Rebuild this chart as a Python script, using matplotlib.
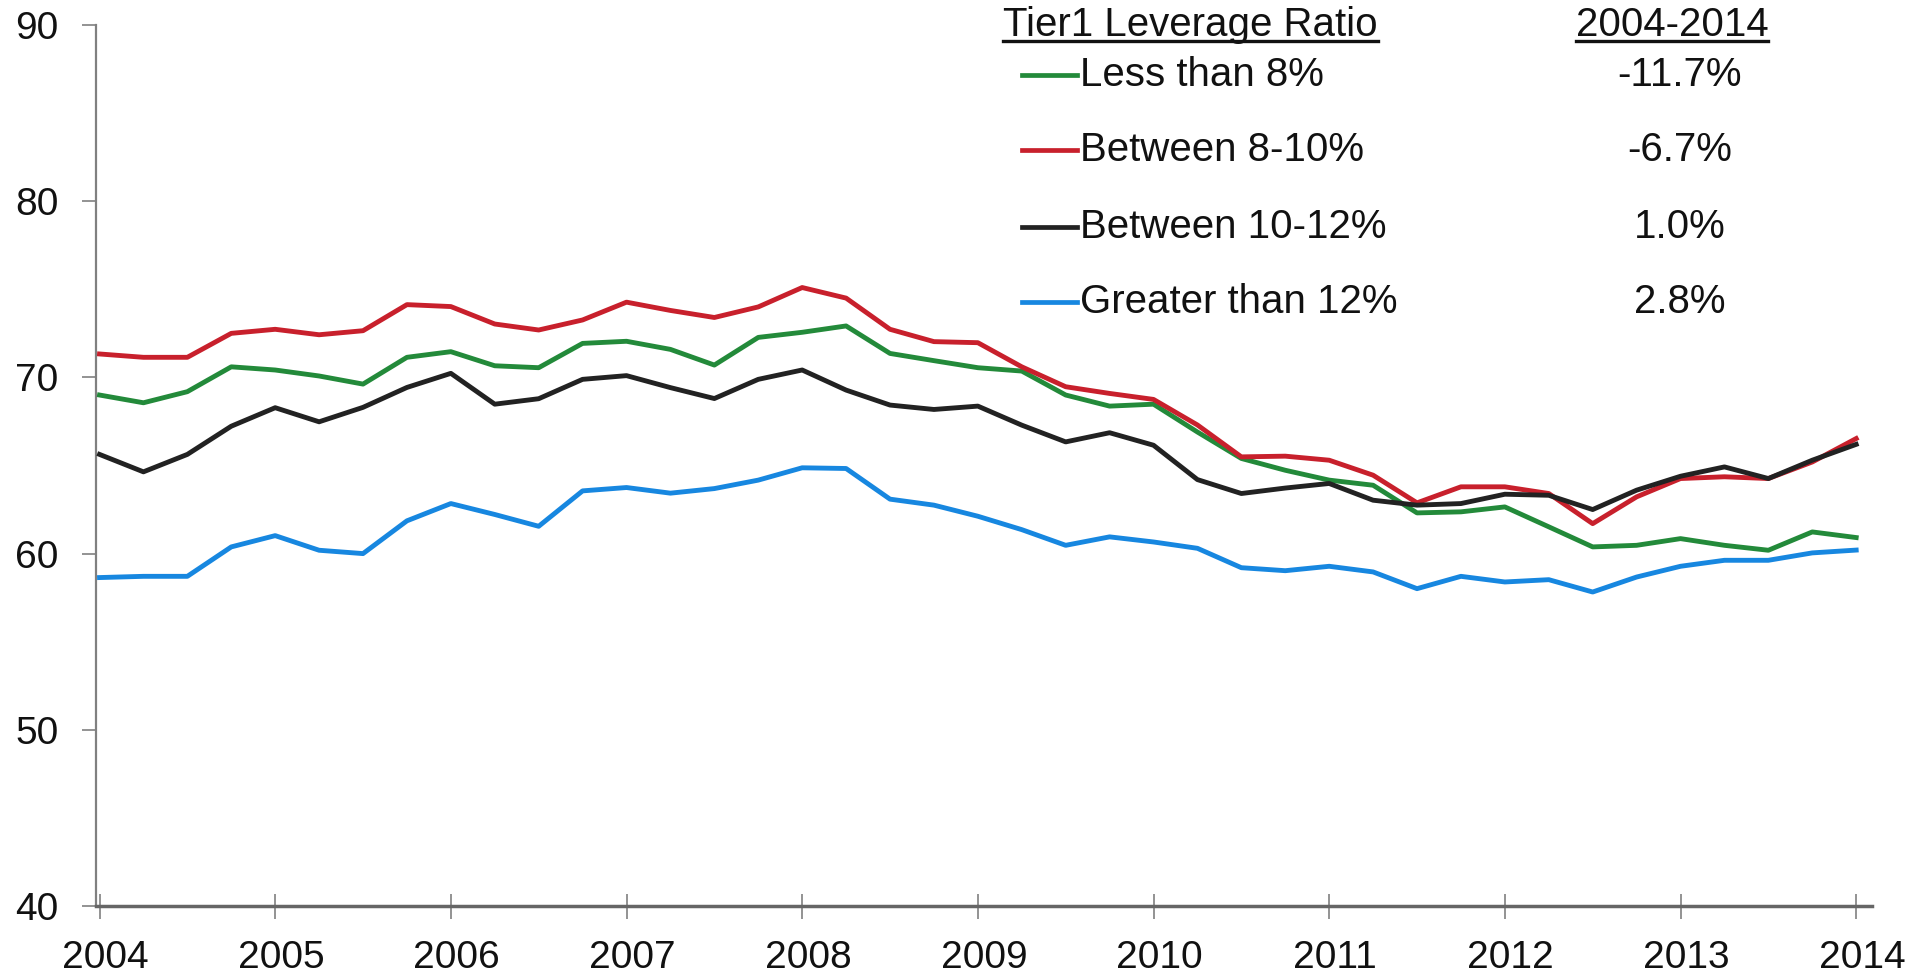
import matplotlib
matplotlib.use("Agg")
import matplotlib.pyplot as plt
from matplotlib.lines import Line2D
import matplotlib.transforms as mtransforms

plt.rcParams['font.family'] = ['Liberation Sans', 'DejaVu Sans']

# ---- data (quarterly, 2004Q1 .. 2014Q1) ----
quarters = [2004 + 0.25 * i for i in range(41)]

less_than_8 = [69.0, 68.56, 69.19, 70.6, 70.42, 70.08, 69.62, 71.14, 71.46, 70.66,
               70.55, 71.93, 72.05, 71.59, 70.7, 72.27, 72.56, 72.92, 71.36, 70.95,
               70.55, 70.36, 69.0, 68.37, 68.48, 66.9, 65.4, 64.73, 64.17, 63.88,
               62.31, 62.37, 62.65, 61.52, 60.38, 60.47, 60.85, 60.47, 60.19, 61.23,
               60.91]
between_8_10 = [71.33, 71.14, 71.14, 72.5, 72.73, 72.42, 72.65, 74.13, 74.02, 73.03,
                72.69, 73.26, 74.27, 73.8, 73.4, 74.0, 75.1, 74.5, 72.73, 72.03,
                71.97, 70.6, 69.47, 69.09, 68.75, 67.3, 65.49, 65.53, 65.3, 64.45,
                62.88, 63.79, 63.79, 63.41, 61.7, 63.22, 64.26, 64.36, 64.26, 65.2,
                66.53]
between_10_12 = [65.63, 64.64, 65.63, 67.23, 68.28, 67.48, 68.3, 69.43, 70.23, 68.48,
                 68.79, 69.89, 70.1, 69.42, 68.8, 69.89, 70.42, 69.28, 68.43, 68.18,
                 68.37, 67.29, 66.34, 66.86, 66.15, 64.2, 63.41, 63.72, 63.98, 63.03,
                 62.75, 62.84, 63.37, 63.31, 62.5, 63.6, 64.39, 64.92, 64.26, 65.3,
                 66.2]
greater_than_12 = [58.64, 58.71, 58.71, 60.38, 61.02, 60.19, 60.0, 61.86, 62.84, 62.22,
                   61.55, 63.56, 63.75, 63.43, 63.69, 64.17, 64.87, 64.83, 63.09, 62.75,
                   62.12, 61.36, 60.47, 60.95, 60.66, 60.3, 59.2, 59.03, 59.28, 58.96,
                   58.01, 58.71, 58.39, 58.52, 57.82, 58.67, 59.28, 59.62, 59.62, 60.04,
                   60.2]

series_labels = ["Less than 8%", "Between 8-10%", "Between 10-12%", "Greater than 12%"]
changes = ["-11.7%", "-6.7%", "1.0%", "2.8%"]
colors = ["#238a3a", "#c8202c", "#222222", "#1787e0"]
year_ticks = list(range(2004, 2015))
y_ticks = [40, 50, 60, 70, 80, 90]

W, H = 1931, 974
fig = plt.figure(figsize=(W / 100, H / 100), dpi=100)
ax = fig.add_axes([96 / W, 1 - 906 / H, (1872 - 96) / W, (906 - 25) / H])

all_series = [less_than_8, between_8_10, between_10_12, greater_than_12]
order = [3, 2, 0, 1]
for k in order:
    ax.plot(quarters, all_series[k], color=colors[k], lw=3.5, zorder=3 + k)

ax.set_xlim(2003.98, 2014.09)
ax.set_ylim(40, 90)
ax.set_xticks(year_ticks)
ax.set_xticklabels([str(y) for y in year_ticks])
ax.set_yticks(y_ticks)
ax.set_yticklabels([str(v) for v in y_ticks])

for s in ["top", "right"]:
    ax.spines[s].set_visible(False)
ax.spines["left"].set_color("#808080")
ax.spines["left"].set_linewidth(1.6)
ax.spines["bottom"].set_color("#666666")
ax.spines["bottom"].set_linewidth(2.5)

ax.tick_params(axis='y', direction='out', length=10, width=1.2, color="#808080",
               pad=17, labelsize=28, labelcolor="#111111")
ax.tick_params(axis='x', direction='inout', length=18, width=1.2, color="#808080",
               pad=15.5, labelsize=28, labelcolor="#111111")
shift = mtransforms.ScaledTranslation(6 / 100, 0, fig.dpi_scale_trans)
for lbl in ax.get_xticklabels():
    lbl.set_transform(lbl.get_transform() + shift)

# ---- custom legend table ----
fs = 29
hdr1 = fig.text(1003 / W, 1 - 36 / H, "Tier1 Leverage Ratio", fontsize=fs,
                ha='left', va='baseline', color="#111111")
hdr2 = fig.text(1672 / W, 1 - 36 / H, "2004-2014", fontsize=fs,
                ha='center', va='baseline', color="#111111")
fig.canvas.draw()
renderer = fig.canvas.get_renderer()
for t in (hdr1, hdr2):
    bb = t.get_window_extent(renderer)
    yline = (H - 41) / H
    fig.add_artist(Line2D([bb.x0 / W, bb.x1 / W], [yline, yline],
                          transform=fig.transFigure, color="#111111", lw=2.4))

row_y = [75, 150, 227, 302]
for lab, ch, col, yy in zip(series_labels, changes, colors, row_y):
    yf = 1 - yy / H
    fig.add_artist(Line2D([1022 / W, 1077 / W], [yf, yf],
                          transform=fig.transFigure, color=col, lw=3.4))
    fig.text(1080 / W, yf, lab, fontsize=fs, ha='left', va='center', color="#111111")
    fig.text(1680 / W, yf, ch, fontsize=fs, ha='center', va='center', color="#111111")

fig.savefig("out.png", dpi=100)
